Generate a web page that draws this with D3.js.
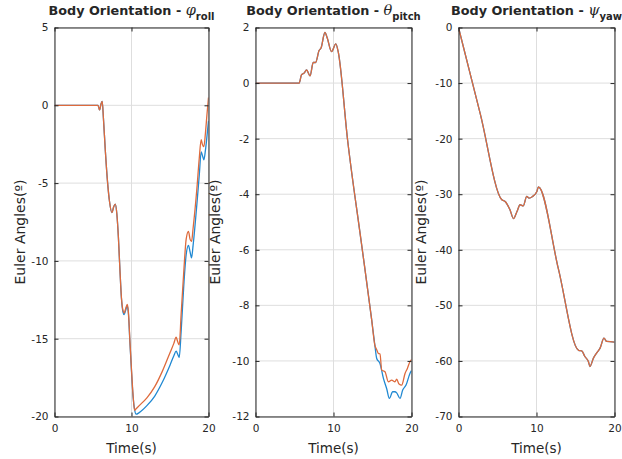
<!DOCTYPE html>
<html>
<head>
<meta charset="utf-8">
<script src="https://cdn.jsdelivr.net/npm/d3@7"></script>
<style>
  html, body { margin: 0; padding: 0; background: #fff; }
  svg { display: block; }
  text { font-family: "DejaVu Sans", "Liberation Sans", sans-serif; fill: #262626; }
</style>
</head>
<body>
<svg id="fig" width="622" height="459"></svg>
<script>
// ---- labels and ticks ----
const titlePrefix = "Body Orientation - ";
const angleSymbols = ["\u03C6", "\u03B8", "\u03C8"];
const angleNames = ["roll", "pitch", "yaw"];
const xLabel = "Time(s)";
const yLabel = "Euler Angles(\u00BA)";
const xTicks = [0, 10, 20];
const rollTicks = [5, 0, -5, -10, -15, -20];
const pitchTicks = [2, 0, -2, -4, -6, -8, -10, -12];
const yawTicks = [0, -10, -20, -30, -40, -50, -60, -70];

// ---- roll angle (deg) ----
const rollTime = [0, 5.65, 5.85, 6.05, 6.2, 6.35, 6.6, 6.9, 7.15, 7.45, 7.7, 7.9, 8.1, 8.3, 8.5, 8.7, 8.9, 9.05, 9.25, 9.45, 9.6, 9.8, 10.0, 10.2, 10.4, 10.6, 11, 12, 13, 14, 15, 15.5, 15.8, 16.0, 16.2, 16.45, 16.8, 17.1, 17.4, 17.6, 17.8, 18.0, 18.5, 18.8, 19.05, 19.2, 19.4, 19.6, 19.8, 20];
const rollEst = [0, 0, -0.3, 0.1, 0.25, -0.8, -2.9, -5.0, -6.2, -6.9, -6.5, -6.35, -7.0, -8.5, -10.6, -12.45, -13.3, -13.45, -13.15, -12.9, -13.4, -15.3, -17.1, -18.7, -19.55, -19.85, -19.75, -19.3, -18.7, -17.8, -16.7, -16.1, -15.8, -16.0, -16.2, -14.5, -11.5, -9.6, -9.0, -9.4, -9.8, -9.0, -6.3, -4.5, -3.0, -3.2, -3.5, -2.9, -2.0, -1.0];
const rollRef = [0, 0, -0.3, 0.1, 0.25, -0.8, -2.9, -5.0, -6.2, -6.9, -6.5, -6.35, -7.0, -8.5, -10.6, -12.4, -13.2, -13.35, -13.05, -12.8, -13.3, -15.2, -17.0, -18.6, -19.6, -19.5, -19.3, -18.8, -18.1, -17.1, -15.9, -15.3, -14.9, -15.2, -15.4, -13.4, -10.6, -8.6, -8.1, -8.6, -8.75, -7.9, -5.3, -3.4, -2.2, -2.5, -2.65, -1.8, -0.6, 0.5];

// ---- pitch angle (deg) ----
const pitchEstTime = [0, 5.6, 5.9, 6.2, 6.55, 7.0, 7.4, 7.7, 8.15, 8.4, 8.9, 9.2, 9.75, 10.3, 10.6, 11.8, 13.5, 14.9, 15.3, 15.54, 15.96, 16.4, 16.82, 17.16, 17.59, 17.88, 18.1, 18.53, 18.87, 19.3, 19.8, 20];
const pitchEst = [0, 0, 0.3, 0.35, 0.47, 0.26, 0.74, 0.74, 1.17, 1.26, 1.82, 1.62, 1.13, 1.41, 1.13, -2.03, -5.6, -8.53, -9.43, -9.91, -10.09, -10.63, -11.0, -11.35, -11.11, -11.11, -11.15, -11.35, -11.05, -10.87, -10.45, -10.35];
const pitchRefTime = [0, 5.6, 5.9, 6.2, 6.55, 7.0, 7.4, 7.7, 8.15, 8.4, 8.9, 9.2, 9.75, 10.3, 10.6, 11.8, 13.5, 14.9, 15.3, 15.54, 15.75, 15.96, 16.18, 16.6, 17.03, 17.46, 17.88, 18.1, 18.4, 18.74, 19.17, 19.47, 19.8, 20];
const pitchRef = [0, 0, 0.3, 0.35, 0.47, 0.26, 0.74, 0.74, 1.17, 1.26, 1.82, 1.62, 1.13, 1.41, 1.13, -2.03, -5.6, -8.53, -9.43, -9.6, -9.73, -9.75, -10.33, -10.39, -10.75, -10.69, -10.75, -10.66, -10.83, -10.87, -10.45, -10.27, -10.03, -9.95];

// ---- yaw angle (deg) ----
const yawTime = [0, 2.8, 5.55, 5.98, 6.6, 7.05, 7.5, 7.9, 8.3, 8.75, 9.05, 9.5, 10.05, 10.25, 12.8, 15.4, 15.8, 16.2, 16.65, 16.85, 17.3, 17.7, 18.15, 18.65, 19.0, 20];
const yawEst = [0, -15.6, -31.0, -31.3, -32.8, -34.4, -33.1, -31.9, -32.1, -30.4, -30.7, -30.4, -29.5, -28.7, -43.4, -58.1, -58.2, -59.2, -60.1, -61.0, -59.5, -58.6, -57.7, -55.9, -56.5, -56.6];
const yawRef = [0, -15.6, -31.0, -31.3, -32.8, -34.4, -33.1, -31.9, -32.1, -30.4, -30.7, -30.4, -29.5, -28.7, -43.4, -58.1, -58.2, -59.2, -60.1, -61.0, -59.5, -58.6, -57.7, -55.9, -56.5, -56.6];

const colorEst = "#2189d2";
const colorRef = "#de6a3c";

const panels = [
  { left: 54.5, width: 154, domain: [-20, 5], ticks: rollTicks, yLabelX: 20,
    series: [{ t: rollTime, v: rollEst, c: colorEst }, { t: rollTime, v: rollRef, c: colorRef }] },
  { left: 255.5, width: 156, domain: [-12, 2], ticks: pitchTicks, yLabelX: 215,
    series: [{ t: pitchEstTime, v: pitchEst, c: colorEst }, { t: pitchRefTime, v: pitchRef, c: colorRef }] },
  { left: 458.5, width: 156, domain: [-70, 0], ticks: yawTicks, yLabelX: 421,
    series: [{ t: yawTime, v: yawEst, c: colorEst }, { t: yawTime, v: yawRef, c: colorRef }] }
];

const plotTop = 27.5, plotBottom = 416.5;
const svg = d3.select("#fig");
const tickText = d => String(d);

panels.forEach((p, i) => {
  const x = d3.scaleLinear().domain([0, 20]).range([p.left, p.left + p.width]);
  const y = d3.scaleLinear().domain(p.domain).range([plotBottom, plotTop]);
  const g = svg.append("g");

  // grid
  g.append("g").selectAll("line").data(p.ticks).join("line")
    .attr("x1", p.left).attr("x2", p.left + p.width)
    .attr("y1", d => y(d)).attr("y2", d => y(d))
    .attr("stroke", "#dedede").attr("stroke-width", 1);
  g.append("g").selectAll("line").data(xTicks).join("line")
    .attr("x1", d => x(d)).attr("x2", d => x(d))
    .attr("y1", plotTop).attr("y2", plotBottom)
    .attr("stroke", "#dedede").attr("stroke-width", 1);

  // data lines
  const clipId = "clip" + i;
  svg.append("clipPath").attr("id", clipId).append("rect")
    .attr("x", p.left).attr("y", plotTop - 1).attr("width", p.width).attr("height", plotBottom - plotTop + 2);
  const line = d3.line().curve(d3.curveMonotoneX).x(d => x(d[0])).y(d => y(d[1]));
  p.series.forEach(s => {
    g.append("path")
      .datum(s.t.map((t, k) => [t, s.v[k]]))
      .attr("clip-path", `url(#${clipId})`)
      .attr("fill", "none").attr("stroke", s.c).attr("stroke-width", 1.3)
      .attr("stroke-linejoin", "round")
      .attr("d", line);
  });

  // axes (ticks inward on all four sides)
  const styleAxis = sel => {
    sel.select(".domain").attr("stroke", "#262626").attr("stroke-width", 1).attr("fill", "none");
    sel.selectAll(".tick line").attr("stroke", "#262626");
    sel.selectAll(".tick text").attr("fill", "#262626")
      .style("font-family", '"DejaVu Sans", sans-serif').style("font-size", "10.5px");
  };
  g.append("g").attr("transform", `translate(${p.left},0)`)
    .call(d3.axisLeft(y).tickValues(p.ticks).tickFormat(tickText).tickSize(-4).tickSizeOuter(0).tickPadding(6))
    .call(styleAxis);
  g.append("g").attr("transform", `translate(${p.left + p.width},0)`)
    .call(d3.axisRight(y).tickValues(p.ticks).tickFormat("").tickSize(-4).tickSizeOuter(0))
    .call(styleAxis);
  g.append("g").attr("transform", `translate(0,${plotBottom})`)
    .call(d3.axisBottom(x).tickValues(xTicks).tickFormat(tickText).tickSize(-4).tickSizeOuter(0).tickPadding(8))
    .call(styleAxis);
  g.append("g").attr("transform", `translate(0,${plotTop})`)
    .call(d3.axisTop(x).tickValues(xTicks).tickFormat("").tickSize(-4).tickSizeOuter(0))
    .call(styleAxis);

  // axis labels
  g.append("text")
    .attr("x", p.left + p.width / 2).attr("y", 453)
    .attr("text-anchor", "middle").style("font-size", "13.5px")
    .text(xLabel);
  g.append("text")
    .attr("transform", `translate(${p.yLabelX},232) rotate(-90)`)
    .attr("text-anchor", "middle").attr("dy", "0.35em").style("font-size", "14px")
    .text(yLabel);

  // title with greek symbol and subscript
  const title = g.append("text")
    .attr("x", p.left + p.width / 2).attr("y", 15)
    .attr("text-anchor", "middle")
    .style("font-size", "12.8px").style("font-weight", "bold");
  title.append("tspan").text(titlePrefix);
  title.append("tspan").text(angleSymbols[i])
    .style("font-family", '"DejaVu Serif", "Liberation Serif", serif')
    .style("font-style", "italic").style("font-weight", "normal").style("font-size", "14.5px");
  title.append("tspan").text(angleNames[i])
    .attr("dy", 5).style("font-size", "10px");
});
</script>
</body>
</html>
